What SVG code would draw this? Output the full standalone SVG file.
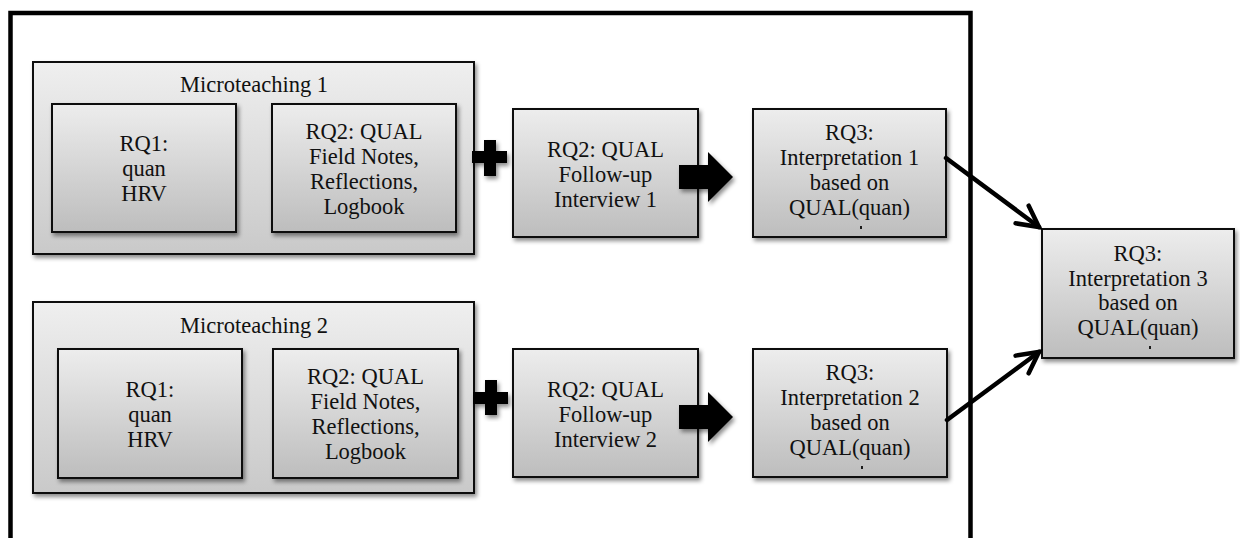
<svg xmlns="http://www.w3.org/2000/svg" width="1240" height="538" viewBox="0 0 1240 538">
<style>
  .box { stroke: #111; stroke-width: 2; filter: url(#sh); }
  .outer { fill: url(#gOuter); }
  .inner { fill: url(#gInner); }
  .t { font-family: "Liberation Serif", "Times New Roman", serif; font-size: 22.5px; fill: #111; text-anchor: middle; }
  .conn { stroke: #000; stroke-width: 4.5; fill: none; stroke-linecap: round; }
  .blk { fill: #000; filter: url(#sh); }
</style>
<defs>
  <linearGradient id="gOuter" x1="0" y1="0" x2="0" y2="1">
    <stop offset="0" stop-color="#efefef"/>
    <stop offset="1" stop-color="#c9c9c9"/>
  </linearGradient>
  <linearGradient id="gInner" x1="0" y1="0" x2="0" y2="1">
    <stop offset="0" stop-color="#ededed"/>
    <stop offset="1" stop-color="#bdbdbd"/>
  </linearGradient>
  <filter id="sh" x="-10%" y="-10%" width="125%" height="130%">
    <feDropShadow dx="2" dy="3" stdDeviation="2.2" flood-color="#000" flood-opacity="0.45"/>
  </filter>
  <marker id="chev" markerUnits="userSpaceOnUse" orient="auto" markerWidth="40" markerHeight="40" refX="0" refY="0" viewBox="-30 -20 40 40" overflow="visible">
    <path d="M -21,-11 L 0,0 L -21,11" fill="none" stroke="#000" stroke-width="4.5" stroke-linecap="round" stroke-linejoin="miter"/>
  </marker>
</defs>
<rect width="1240" height="538" fill="#fff"/>

<!-- outer frame -->
<path d="M 10.5,540 L 10.5,13 L 970.5,13 L 970.5,540" fill="none" stroke="#000" stroke-width="4.5"/>

<g id="microteaching1">
  <rect class="box outer" x="33" y="62" width="441" height="192"/>
  <text class="t" x="254" y="92">Microteaching 1</text>
</g>
<g id="rq1-a">
  <rect class="box inner" x="52" y="104" width="184" height="128"/>
  <text class="t" x="144" y="151">RQ1:</text>
  <text class="t" x="144" y="176">quan</text>
  <text class="t" x="144" y="201">HRV</text>
</g>
<g id="rq2-a">
  <rect class="box inner" x="272" y="104" width="184" height="128"/>
  <text class="t" x="364" y="139">RQ2: QUAL</text>
  <text class="t" x="364" y="164">Field Notes,</text>
  <text class="t" x="364" y="189">Reflections,</text>
  <text class="t" x="364" y="214">Logbook</text>
</g>
<g id="followup1">
  <rect class="box inner" x="513" y="109" width="185" height="128"/>
  <text class="t" x="605.5" y="157">RQ2: QUAL</text>
  <text class="t" x="605.5" y="182">Follow-up</text>
  <text class="t" x="605.5" y="207">Interview 1</text>
</g>
<g id="interp1">
  <rect class="box inner" x="753" y="109" width="193" height="128"/>
  <text class="t" x="849.5" y="140">RQ3:</text>
  <text class="t" x="849.5" y="165">Interpretation 1</text>
  <text class="t" x="849.5" y="190">based on</text>
  <text class="t" x="849.5" y="215">QUAL(quan)</text>
  <rect x="860" y="226" width="2" height="3" fill="#1a1a1a"/>
</g>

<g id="microteaching2">
  <rect class="box outer" x="33" y="302" width="441" height="191"/>
  <text class="t" x="254" y="333">Microteaching 2</text>
</g>
<g id="rq1-b">
  <rect class="box inner" x="58" y="349" width="184" height="129"/>
  <text class="t" x="150" y="397">RQ1:</text>
  <text class="t" x="150" y="422">quan</text>
  <text class="t" x="150" y="447">HRV</text>
</g>
<g id="rq2-b">
  <rect class="box inner" x="273" y="349" width="185" height="129"/>
  <text class="t" x="365.5" y="384">RQ2: QUAL</text>
  <text class="t" x="365.5" y="409">Field Notes,</text>
  <text class="t" x="365.5" y="434">Reflections,</text>
  <text class="t" x="365.5" y="459">Logbook</text>
</g>
<g id="followup2">
  <rect class="box inner" x="513" y="349" width="185" height="128"/>
  <text class="t" x="605.5" y="397">RQ2: QUAL</text>
  <text class="t" x="605.5" y="422">Follow-up</text>
  <text class="t" x="605.5" y="447">Interview 2</text>
</g>
<g id="interp2">
  <rect class="box inner" x="753" y="349" width="194" height="128"/>
  <text class="t" x="850" y="380">RQ3:</text>
  <text class="t" x="850" y="405">Interpretation 2</text>
  <text class="t" x="850" y="430">based on</text>
  <text class="t" x="850" y="455">QUAL(quan)</text>
  <rect x="861" y="466" width="2" height="3" fill="#1a1a1a"/>
</g>

<g id="interp3">
  <rect class="box inner" x="1042" y="229" width="192" height="129"/>
  <text class="t" x="1138" y="261">RQ3:</text>
  <text class="t" x="1138" y="286">Interpretation 3</text>
  <text class="t" x="1138" y="310">based on</text>
  <text class="t" x="1138" y="335">QUAL(quan)</text>
  <rect x="1149" y="346" width="2" height="3" fill="#1a1a1a"/>
</g>

<g id="connectors">
  <path class="blk" d="M 484,140 H 496 V 151 H 507 V 163 H 496 V 176 H 484 V 163 H 472 V 151 H 484 Z"/>
  <path class="blk" d="M 485,380 H 497 V 392 H 508 V 404 H 497 V 415 H 485 V 404 H 473 V 392 H 485 Z"/>
  <path class="blk" d="M 679,165 H 708 V 152 L 733,177 L 708,202 V 189 H 679 Z"/>
  <path class="blk" d="M 679,405 H 708 V 392 L 733,417 L 708,442 V 429 H 679 Z"/>
  <line class="conn" x1="946" y1="158" x2="1039" y2="227" marker-end="url(#chev)"/>
  <line class="conn" x1="947" y1="420" x2="1039" y2="352" marker-end="url(#chev)"/>
</g>
</svg>
